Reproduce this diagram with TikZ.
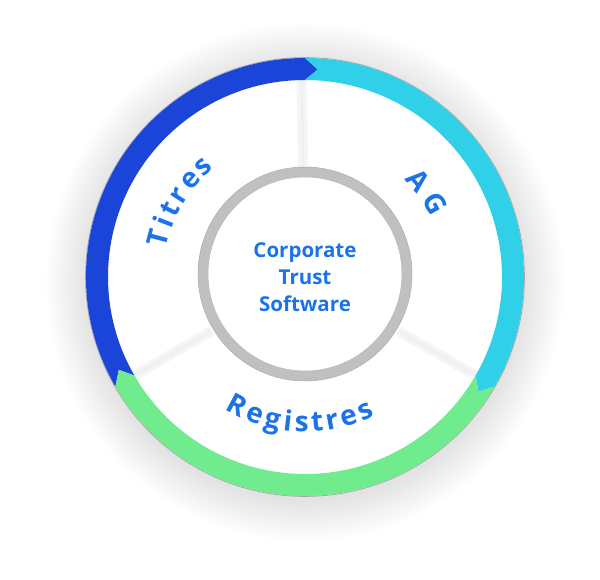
\documentclass[tikz,border=0pt]{standalone}
\usepackage{fontspec}
\setmainfont{Open Sans}
\definecolor{ringblue}{RGB}{27,68,217}
\definecolor{ringcyan}{RGB}{48,208,232}
\definecolor{ringgreen}{RGB}{112,236,142}
\definecolor{txtblue}{RGB}{26,115,232}
\definecolor{hubgray}{RGB}{192,192,192}
\tikzstyle{lt} = [text=txtblue, font=\fontsize{28}{32}\selectfont\bfseries,
    inner sep=0pt, anchor=base]
\tikzstyle{hub} = [text=txtblue, font=\fontsize{20.5}{27}\selectfont\bfseries,
    align=center]

\begin{document}
\begin{tikzpicture}[x=1pt,y=1pt]
  \useasboundingbox (-305,-302) rectangle (295,277);
  \fill[white] (-305,-302) rectangle (295,277);
  % soft shadow
  \foreach \r in {1,...,14}
    \fill[black,opacity=0.007] (0,-5) circle[radius=217+3*\r];
  \fill[white] (0,0) circle[radius=219];
  \draw[gray!70, line width=0.8] (0,0) circle[radius=219.4];

  % spokes
  \foreach \a in {91,210,330} {
    \draw[black!4, line width=10] (\a:108) -- (\a:197);
    \draw[black!6, line width=3] (\a:108) -- (\a:197);
  }

  % ring
  \fill[ringblue] (210:219) arc[start angle=210, end angle=90, radius=219]
    -- (86.5:208) -- (90:197) arc[start angle=90, end angle=210, radius=197]
    -- (206.5:208) -- cycle;
  \fill[ringcyan] (90:219) arc[start angle=90, end angle=-30, radius=219]
    -- (-33.5:208) -- (-30:197) arc[start angle=-30, end angle=90, radius=197]
    -- (86.5:208) -- cycle;
  \fill[ringgreen] (-30:219) arc[start angle=-30, end angle=-150, radius=219]
    -- (-153.5:208) -- (-150:197) arc[start angle=-150, end angle=-30, radius=197]
    -- (-33.5:208) -- cycle;

  % hub
  \draw[hubgray, line width=10] (0,3) circle[radius=102];
  \draw[gray!65, line width=0.5] (0,3) circle[radius=107];
  \draw[gray!55, line width=0.5] (0,3) circle[radius=97];
  \node[hub] (core) at (0,0) {Corporate\\Trust\\Software};

  % labels
  \foreach \ch/\a [count=\n] in {T/165, i/158.8, t/153.4, r/147.1, e/139.9, s/132.5}
    \node[lt, rotate=\a-90] (tit\n) at (\a:142) {\ch};
  \foreach \ch/\a [count=\n] in {A/40.5, G/29.5}
    \node[lt, rotate=\a-90] (ag\n) at (\a:139.5) {\ch};
  \foreach \ch/\a [count=\n] in {R/242, e/250, g/257.5, i/263.3, s/268.7,
      t/274.8, r/280.6, e/287.4, s/294.4}
    \node[lt, rotate=\a+90] (reg\n) at (\a:155) {\ch};
\end{tikzpicture}
\end{document}
